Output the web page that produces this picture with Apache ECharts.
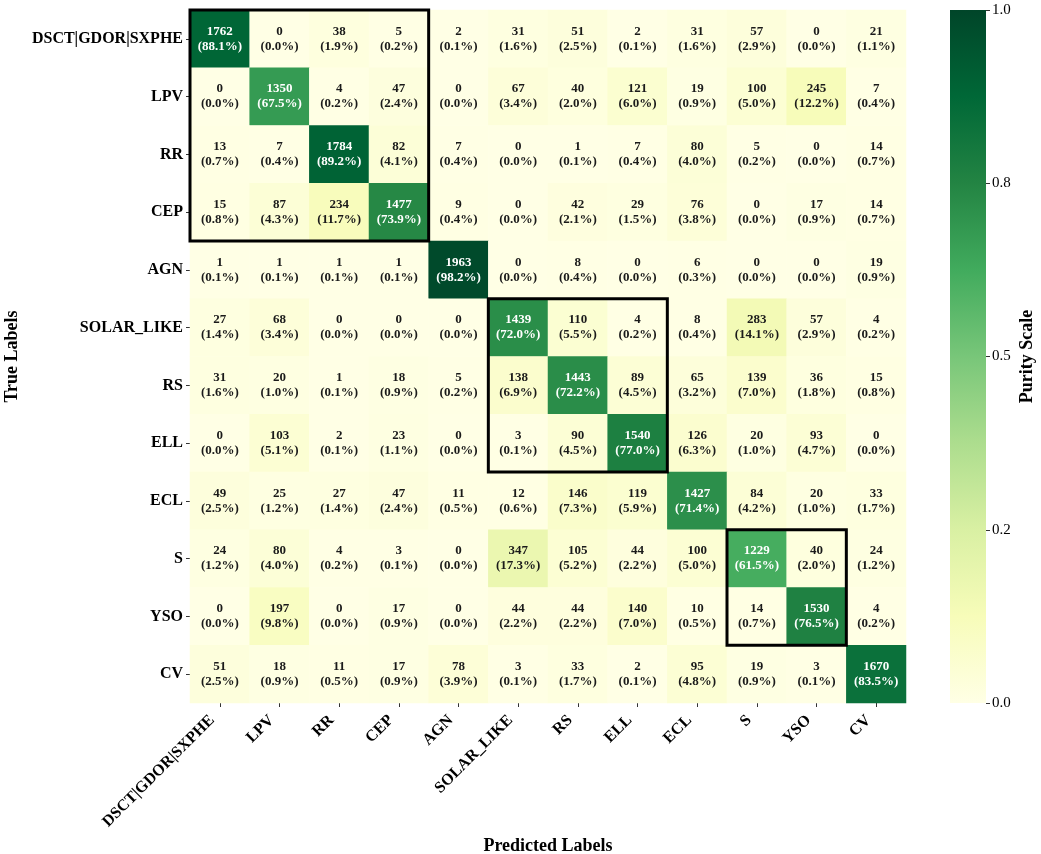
<!DOCTYPE html>
<html>
<head>
<meta charset="utf-8">
<script src="https://cdn.jsdelivr.net/npm/echarts@6/dist/echarts.min.js"></script>
<style>html,body{margin:0;padding:0;background:#fff}#main{width:1041px;height:854px}</style>
</head>
<body>
<div id="main"></div>
<script>
// class names (rows = true, cols = predicted)
var classes = ['DSCT|GDOR|SXPHE', 'LPV', 'RR', 'CEP', 'AGN', 'SOLAR_LIKE', 'RS', 'ELL', 'ECL', 'S', 'YSO', 'CV'];

var counts = [
    [1762, 0, 38, 5, 2, 31, 51, 2, 31, 57, 0, 21],
    [0, 1350, 4, 47, 0, 67, 40, 121, 19, 100, 245, 7],
    [13, 7, 1784, 82, 7, 0, 1, 7, 80, 5, 0, 14],
    [15, 87, 234, 1477, 9, 0, 42, 29, 76, 0, 17, 14],
    [1, 1, 1, 1, 1963, 0, 8, 0, 6, 0, 0, 19],
    [27, 68, 0, 0, 0, 1439, 110, 4, 8, 283, 57, 4],
    [31, 20, 1, 18, 5, 138, 1443, 89, 65, 139, 36, 15],
    [0, 103, 2, 23, 0, 3, 90, 1540, 126, 20, 93, 0],
    [49, 25, 27, 47, 11, 12, 146, 119, 1427, 84, 20, 33],
    [24, 80, 4, 3, 0, 347, 105, 44, 100, 1229, 40, 24],
    [0, 197, 0, 17, 0, 44, 44, 140, 10, 14, 1530, 4],
    [51, 18, 11, 17, 78, 3, 33, 2, 95, 19, 3, 1670]
];

// groups outlined in black: [firstCol, firstRow, lastCol, lastRow]
var groups = [[0, 0, 3, 3], [5, 5, 7, 7], [9, 9, 10, 10]];

// colorbar ticks
var barTicks = [0, 0.25, 0.5, 0.75, 1];
var barTickLabels = ['0.0', '0.2', '0.5', '0.8', '1.0'];

var ylgn = ['#ffffe5', '#f7fcb9', '#d9f0a3', '#addd8e', '#78c679', '#41ab5d', '#238443', '#006837', '#004529'];
var serif = "'Liberation Serif', 'Times New Roman', serif";

// one decimal, ties to even (like python's format)
function fmt1(x) {
    if (Number.isInteger(x * 4) && (x * 4) % 2 === 1) {
        var n = Math.floor(x * 10);
        if (n % 2 === 1) n += 1;
        return (n / 10).toFixed(1);
    }
    return x.toFixed(1);
}

var cells = [];
counts.forEach(function (row, i) {
    var total = row.reduce(function (a, b) { return a + b; }, 0);
    row.forEach(function (c, j) {
        var frac = c / total;
        cells.push({
            value: [j, i, frac, c, fmt1(c / total * 100)],
            label: { color: frac > 0.5 ? '#ffffff' : '#1a1a1a' }
        });
    });
});

var titleStyle = { fontSize: 18, fontWeight: 'bold', fontFamily: serif, color: '#000' };

var myChart = echarts.init(document.getElementById('main'));
myChart.setOption({
    animation: false,
    backgroundColor: '#fff',
    grid: [
        { left: 190, top: 10, width: 716, height: 693, outerBoundsMode: 'none', containLabel: false },
        { left: 950, top: 10, width: 36, height: 693, outerBoundsMode: 'none', containLabel: false }
    ],
    xAxis: [{
        type: 'category', gridIndex: 0, data: classes,
        axisLine: { show: false },
        axisTick: { show: true, alignWithLabel: true, length: 4, lineStyle: { color: '#333' } },
        axisLabel: {
            rotate: 45, margin: 7, padding: [0, 11, 0, 0], fontSize: 16, fontWeight: 'bold',
            fontFamily: serif, color: '#000', interval: 0
        },
        name: 'Predicted Labels', nameLocation: 'middle', nameGap: 128,
        nameTextStyle: titleStyle,
        splitLine: { show: false }
    }, {
        type: 'value', gridIndex: 1, min: 0, max: 1, show: false,
        axisTick: { show: false }, axisLabel: { show: false }, axisLine: { show: false }
    }],
    yAxis: [{
        type: 'category', gridIndex: 0, data: classes, inverse: true,
        axisLine: { show: false },
        axisTick: { show: true, alignWithLabel: true, length: 4, lineStyle: { color: '#333' } },
        axisLabel: { margin: 7, fontSize: 16, fontWeight: 'bold', fontFamily: serif, color: '#000', interval: 0 },
        name: 'True Labels', nameLocation: 'middle', nameGap: 162,
        nameTextStyle: titleStyle,
        splitLine: { show: false }
    }, {
        type: 'value', gridIndex: 1, min: 0, max: 1, interval: 0.25, position: 'right', z: 10,
        axisLine: { show: false, onZero: false },
        axisTick: { show: true, inside: false, length: 4, lineStyle: { color: '#333' } },
        axisLabel: {
            margin: 6, fontSize: 15, fontFamily: serif, color: '#000',
            formatter: function (v) { var k = barTicks.indexOf(v); return k >= 0 ? barTickLabels[k] : ''; }
        },
        splitLine: { show: false },
        name: 'Purity Scale', nameLocation: 'middle', nameGap: 32, nameRotate: 90,
        nameTextStyle: titleStyle
    }],
    visualMap: {
        show: false, min: 0, max: 1, dimension: 2, seriesIndex: 0,
        inRange: { color: ylgn }
    },
    series: [{
        type: 'heatmap', xAxisIndex: 0, yAxisIndex: 0,
        data: cells,
        label: {
            show: true, fontSize: 13, fontWeight: 'bold', fontFamily: serif, lineHeight: 15,
            formatter: function (p) { return p.value[3] + '\n(' + p.value[4] + '%)'; }
        },
        emphasis: { disabled: true }
    }, {
        type: 'custom', xAxisIndex: 0, yAxisIndex: 0, z: 5,
        data: groups,
        renderItem: function (params, api) {
            var p0 = api.coord([api.value(0), api.value(1)]);
            var p1 = api.coord([api.value(2), api.value(3)]);
            var s = api.size([1, 1]);
            return {
                type: 'rect',
                shape: { x: p0[0] - s[0] / 2, y: p0[1] - s[1] / 2, width: p1[0] - p0[0] + s[0], height: p1[1] - p0[1] + s[1] },
                style: { fill: 'none', stroke: '#000', lineWidth: 3 }
            };
        }
    }, {
        // colorbar
        type: 'custom', xAxisIndex: 1, yAxisIndex: 1, z: 1,
        data: [[0, 0, 1, 1]],
        renderItem: function (params, api) {
            var p0 = api.coord([api.value(0), api.value(1)]);
            var p1 = api.coord([api.value(2), api.value(3)]);
            return {
                type: 'rect',
                shape: { x: p0[0], y: p1[1], width: p1[0] - p0[0], height: p0[1] - p1[1] },
                style: {
                    fill: new echarts.graphic.LinearGradient(0, 1, 0, 0, ylgn.map(function (c, k) {
                        return { offset: k / (ylgn.length - 1), color: c };
                    }))
                }
            };
        }
    }]
});
</script>
</body>
</html>
